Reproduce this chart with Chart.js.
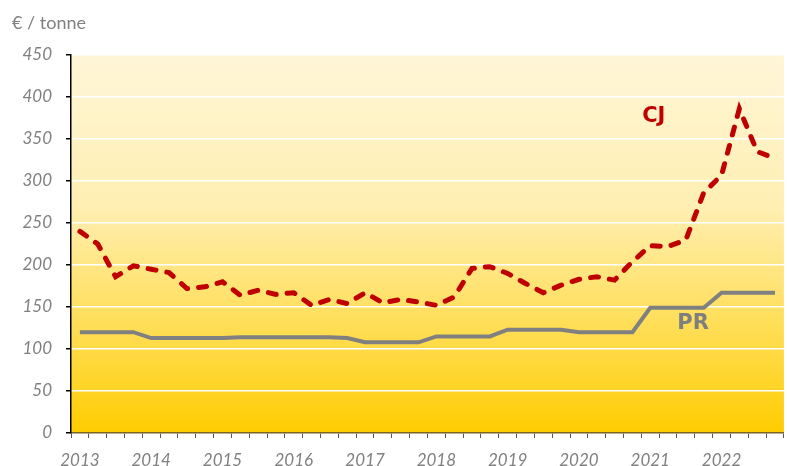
<!DOCTYPE html>
<html>
<head>
<meta charset="utf-8">
<script src="https://cdn.jsdelivr.net/npm/chart.js@4.4.1/dist/chart.umd.min.js"></script>
<style>
  html, body { margin: 0; padding: 0; background: #fff; }
  #wrap { width: 787px; height: 466px; }
</style>
</head>
<body>
<div id="wrap"><canvas id="priceChart" width="787" height="466"></canvas></div>
<script>
// years shown on the axis, 4 quarters each
const years = [2013, 2014, 2015, 2016, 2017, 2018, 2019, 2020, 2021, 2022];
const quarters = ['T1', 'T2', 'T3', 'T4'];

// CJ price, €/tonne, one value per quarter
const cj = [240, 225, 186, 199, 195, 191, 172, 174, 180, 164,
            170, 165, 167, 152, 159, 154, 167, 155, 159, 156,
            152, 162, 196, 198, 190, 178, 167, 176, 183, 186,
            182, 204, 223, 222, 230, 286, 307, 386, 335, 327];

// PR price, €/tonne
const pr = [120, 120, 120, 120, 113, 113, 113, 113, 113, 114,
            114, 114, 114, 114, 114, 113, 108, 108, 108, 108,
            115, 115, 115, 115, 123, 123, 123, 123, 120, 120,
            120, 120, 149, 149, 149, 149, 167, 167, 167, 167];

const yTicks = [0, 50, 100, 150, 200, 250, 300, 350, 400, 450];

const labels = [];
years.forEach(y => quarters.forEach(q => labels.push(y + ' ' + q)));

const bgPlugin = {
  id: 'bg',
  beforeDraw(chart) {
    const {ctx, chartArea: a} = chart;
    const g = ctx.createLinearGradient(0, a.top, 0, a.bottom);
    g.addColorStop(0, '#FFF6D8');
    g.addColorStop(0.4, '#FFEFB2');
    g.addColorStop(0.8, '#FFD93E');
    g.addColorStop(1, '#FFCC00');
    ctx.save();
    ctx.fillStyle = g;
    ctx.fillRect(a.left, a.top, a.right - a.left, a.bottom - a.top);
    ctx.restore();
  }
};

const seriesLabels = {
  id: 'seriesLabels',
  afterDatasetsDraw(chart) {
    const {ctx, scales: {x, y}} = chart;
    ctx.save();
    ctx.textAlign = 'center';
    ctx.textBaseline = 'middle';
    ctx.font = 'bold 21px "DejaVu Sans"';
    ctx.fillStyle = '#C00000';
    ctx.fillText('CJ', x.getPixelForValue(32.2), y.getPixelForValue(377));
    ctx.fillStyle = '#7F7F7F';
    ctx.fillText('PR', x.getPixelForValue(34.4), y.getPixelForValue(130));
    ctx.restore();
  }
};

const tickFont = {family: 'Lato', size: 17, style: 'italic'};

new Chart(document.getElementById('priceChart'), {
  type: 'line',
  data: {
    labels: labels,
    datasets: [{
      label: 'CJ',
      data: cj,
      borderColor: '#C00000',
      borderWidth: 5,
      borderDash: [8, 11],
      borderCapStyle: 'round',
      pointRadius: 0,
      tension: 0
    }, {
      label: 'PR',
      data: pr,
      borderColor: '#808080',
      borderWidth: 4,
      pointRadius: 0,
      tension: 0
    }]
  },
  options: {
    responsive: false,
    animation: false,
    layout: {padding: {left: 12, right: 0, top: 0, bottom: 0}},
    plugins: {
      legend: {display: false},
      tooltip: {enabled: false},
      title: {
        display: true,
        text: '€ / tonne',
        align: 'start',
        color: '#808080',
        font: {family: 'Lato', size: 18, weight: 'normal'},
        padding: {top: 12, bottom: 21.4}
      }
    },
    scales: {
      x: {
        offset: true,
        afterFit(s) { s.height = 33; },
        grid: {
          offset: true,
          drawOnChartArea: false,
          drawTicks: true,
          tickLength: 5,
          tickColor: '#555'
        },
        border: {color: '#7A6420', width: 1.5},
        ticks: {
          autoSkip: false,
          maxRotation: 0,
          padding: 12,
          color: '#808080',
          font: tickFont,
          callback(v, i) { return i % 4 === 0 ? years[i / 4] : ''; }
        }
      },
      y: {
        min: 0,
        max: 450,
        afterFit(s) { s.width = 59; },
        afterBuildTicks(s) { s.ticks = yTicks.map(v => ({value: v})); },
        grid: {
          color: ctx => ctx.tick && ctx.tick.value === 0 ? 'rgba(0,0,0,0)' : '#FFFFFF',
          lineWidth: 1.5,
          tickColor: '#000',
          tickLength: 5
        },
        border: {color: '#000', width: 1.5},
        ticks: {
          padding: 14,
          color: '#808080',
          font: tickFont
        }
      }
    }
  },
  plugins: [bgPlugin, seriesLabels]
});
</script>
</body>
</html>
